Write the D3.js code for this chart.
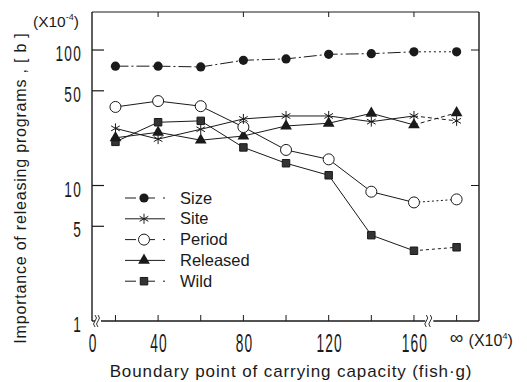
<!DOCTYPE html>
<html>
<head>
<meta charset="utf-8">
<script src="https://cdn.jsdelivr.net/npm/d3@7/dist/d3.min.js"></script>
<style>
  body { margin: 0; background: #fff; }
  svg { display: block; font-family: "Liberation Sans", Arial, sans-serif; }
</style>
</head>
<body>
<div id="chart"></div>
<script>
// carrying capacity (x10^4 fish.g); the last slot is "infinity", drawn after the axis break
const xValues = [20, 40, 60, 80, 100, 120, 140, 160, 180];
const xLabels = ['20', '40', '60', '80', '100', '120', '140', '160', '\u221e'];
const xTickLabels = ['40', '80', '120', '160', '\u221e'];

// importance of releasing programs [b], x10^-4
const sizeVals = [76, 76, 75, 84, 86, 93, 94, 97, 97];
const siteVals = [26.4, 22, 26, 31, 32.6, 32.6, 29.6, 32.6, 30];
const periodVals = [38, 42, 38.5, 27, 18.3, 15.6, 9.0, 7.5, 7.9];
const releasedVals = [22.5, 24.7, 21.6, 23.2, 27.5, 28.8, 34.1, 28, 34.4];
const wildVals = [21, 29.3, 30, 19.1, 14.6, 11.9, 4.3, 3.3, 3.5];

const yTicks = [1, 5, 10, 50, 100];

const MARGIN = { top: 12, right: 48, bottom: 61, left: 92 };
const OUTER_WIDTH = 527, OUTER_HEIGHT = 382,
  INNER_WIDTH = OUTER_WIDTH - MARGIN.left - MARGIN.right,
  INNER_HEIGHT = OUTER_HEIGHT - MARGIN.top - MARGIN.bottom;
const INK = '#1a1a1a';

const xScale = d3.scaleLinear().domain([9, 190.5]).range([0, INNER_WIDTH]);
const yScale = d3.scaleLog().domain([1, 190.8]).range([INNER_HEIGHT, 0]);

const series = [
  { name: 'Size', values: sizeVals, symbol: 'dot', dash: '13,3,2,3', lastDash: '2,3' },
  { name: 'Site', values: siteVals, symbol: 'star', dash: null, lastDash: '4,3' },
  { name: 'Period', values: periodVals, symbol: 'ring', dash: null, lastDash: '2,2.5' },
  { name: 'Released', values: releasedVals, symbol: 'tri', dash: null, lastDash: '4,3' },
  { name: 'Wild', values: wildVals, symbol: 'sq', dash: null, lastDash: '3,3' }
];

const svg = d3.select('#chart').append('svg')
  .attr('width', OUTER_WIDTH)
  .attr('height', OUTER_HEIGHT);
const g = svg.append('g')
  .attr('transform', `translate(${MARGIN.left}, ${MARGIN.top})`);

function drawSymbol(sel, kind) {
  if (kind === 'dot') {
    sel.append('circle').attr('r', 4.6).attr('fill', INK);
  } else if (kind === 'ring') {
    sel.append('circle').attr('r', 5.5).attr('fill', '#fff').attr('stroke', INK).attr('stroke-width', 1);
  } else if (kind === 'tri') {
    sel.append('path').attr('d', d3.symbol(d3.symbolTriangle, 60)()).attr('fill', INK);
  } else if (kind === 'sq') {
    sel.append('path').attr('d', d3.symbol(d3.symbolSquare, 56)())
      .attr('fill', '#333').attr('stroke', INK).attr('stroke-width', 1);
  } else if (kind === 'star') {
    sel.append('path').attr('d', d3.symbol(d3.symbolAsterisk, 70)())
      .attr('fill', 'none').attr('stroke', INK).attr('stroke-width', 1);
  }
}

// frame
const frame = g.append('g').attr('stroke', INK).attr('fill', 'none');
frame.append('line').attr('x1', 0).attr('x2', 0).attr('y1', 0).attr('y2', INNER_HEIGHT).attr('stroke-width', 1.4);
frame.append('line').attr('x1', 0).attr('x2', INNER_WIDTH).attr('y1', 0).attr('y2', 0).attr('stroke-width', 1);
frame.append('line').attr('x1', INNER_WIDTH).attr('x2', INNER_WIDTH).attr('y1', 0).attr('y2', INNER_HEIGHT).attr('stroke-width', 1.4);

// bottom axis, broken after 0 and before infinity
const breakA = 5, breakB = (xScale(160) + xScale(180)) / 2 - 8;
const bottomSegs = [[0, breakA - 2], [breakA + 4, breakB - 2], [breakB + 6, INNER_WIDTH]];
bottomSegs.forEach(s => {
  frame.append('line').attr('x1', s[0]).attr('x2', s[1])
    .attr('y1', INNER_HEIGHT).attr('y2', INNER_HEIGHT).attr('stroke-width', 1.4);
});
const squiggle = (cx) => `M${cx - 1},${INNER_HEIGHT - 6} q3,3 0,6 q-3,3 0,6`;
[breakA - 1, breakA + 2, breakB, breakB + 4].forEach(cx => {
  frame.append('path').attr('d', squiggle(cx)).attr('stroke-width', 0.9);
});

// tick marks
const xTickVals = [20, 40, 60, 80, 100, 120, 140, 160, 180];
g.append('g').selectAll('line').data(xTickVals).enter().append('line')
  .attr('x1', d => xScale(d)).attr('x2', d => xScale(d))
  .attr('y1', INNER_HEIGHT).attr('y2', INNER_HEIGHT - 6)
  .attr('stroke', INK);
g.append('g').selectAll('line').data([40, 80, 120, 160]).enter().append('line')
  .attr('x1', d => xScale(d)).attr('x2', d => xScale(d))
  .attr('y1', 0).attr('y2', 5)
  .attr('stroke', INK);
g.append('g').selectAll('line').data([5, 10, 50, 100]).enter().append('line')
  .attr('x1', 0).attr('x2', 12)
  .attr('y1', d => yScale(d)).attr('y2', d => yScale(d))
  .attr('stroke', INK).attr('stroke-width', 1.2);
g.append('g').selectAll('line').data([10, 100]).enter().append('line')
  .attr('x1', INNER_WIDTH).attr('x2', INNER_WIDTH - 8)
  .attr('y1', d => yScale(d)).attr('y2', d => yScale(d))
  .attr('stroke', INK);

// condensed tick labels
function narrowText(parent, x, y, txt, size, sx, anchor) {
  parent.append('g').attr('transform', `translate(${x}, ${y})`)
    .append('text')
    .attr('transform', `scale(${sx}, 1)`)
    .attr('text-anchor', anchor)
    .attr('font-size', size)
    .attr('letter-spacing', 2)
    .attr('fill', INK)
    .text(txt);
}
yTicks.forEach(v => narrowText(g, -10, yScale(v) + 11, v, 22, 0.62, 'end'));
narrowText(g, 1, INNER_HEIGHT + 31, '0', 25, 0.55, 'middle');
xTickLabels.slice(0, 4).forEach(l => narrowText(g, xScale(+l) + 1, INNER_HEIGHT + 31, l, 25, 0.55, 'middle'));

g.append('text')
  .attr('x', xScale(180)).attr('y', INNER_HEIGHT + 23)
  .attr('text-anchor', 'middle').attr('font-size', 19).attr('fill', INK)
  .text(xTickLabels[4]);
const xUnit = g.append('text')
  .attr('x', xScale(180) + 12).attr('y', INNER_HEIGHT + 25)
  .attr('font-size', 16).attr('fill', INK);
xUnit.append('tspan').text('(X10');
xUnit.append('tspan').attr('font-size', 9).attr('dy', -7).text('4');
xUnit.append('tspan').attr('dy', 7).text(')');

const yUnit = svg.append('text')
  .attr('x', 33).attr('y', 27)
  .attr('font-size', 15.5).attr('fill', INK);
yUnit.append('tspan').text('(X10');
yUnit.append('tspan').attr('font-size', 9).attr('dy', -7).text('-4');
yUnit.append('tspan').attr('dy', 7).text(')');

// axis titles
svg.append('text')
  .attr('x', 291).attr('y', 377)
  .attr('text-anchor', 'middle').attr('font-size', 17).attr('letter-spacing', 0.9).attr('fill', INK)
  .text('Boundary point of carrying capacity (fish\u00b7g)');
svg.append('text')
  .attr('transform', `translate(26, 188) rotate(-90)`)
  .attr('text-anchor', 'middle').attr('font-size', 16).attr('letter-spacing', 0.8).attr('fill', INK)
  .text('Importance of releasing programs , [ b ]');

// series lines and markers
const line = d3.line().x(d => xScale(d[0])).y(d => yScale(d[1]));
series.forEach(s => {
  const pts = xValues.map((x, i) => [x, s.values[i]]);
  g.append('path')
    .attr('d', line(pts.slice(0, 8)))
    .attr('fill', 'none').attr('stroke', INK).attr('stroke-width', 1)
    .attr('stroke-dasharray', s.dash);
  g.append('path')
    .attr('d', line(pts.slice(7)))
    .attr('fill', 'none').attr('stroke', INK).attr('stroke-width', 1)
    .attr('stroke-dasharray', s.lastDash);
});
series.slice().reverse().forEach(s => {
  g.append('g').selectAll('g').data(xValues.map((x, i) => [x, s.values[i]])).enter().append('g')
    .attr('transform', d => `translate(${xScale(d[0])}, ${yScale(d[1])})`)
    .each(function () { drawSymbol(d3.select(this), s.symbol); });
});

// legend
const legend = svg.append('g').attr('transform', 'translate(125, 198)');
series.forEach((s, i) => {
  const row = legend.append('g').attr('transform', `translate(0, ${i * 20.8})`);
  row.append('line').attr('x1', 0).attr('x2', 40).attr('y1', 0).attr('y2', 0)
    .attr('stroke', INK).attr('stroke-width', 1)
    .attr('stroke-dasharray', s.name === 'Size' || s.name === 'Wild' || s.name === 'Period' ? '11,8' : null);
  drawSymbol(row.append('g').attr('transform', 'translate(19, 0)'), s.symbol);
  row.append('text').attr('x', 55).attr('y', 5.5)
    .attr('font-size', 16.5).attr('fill', INK).text(s.name);
});
</script>
</body>
</html>
